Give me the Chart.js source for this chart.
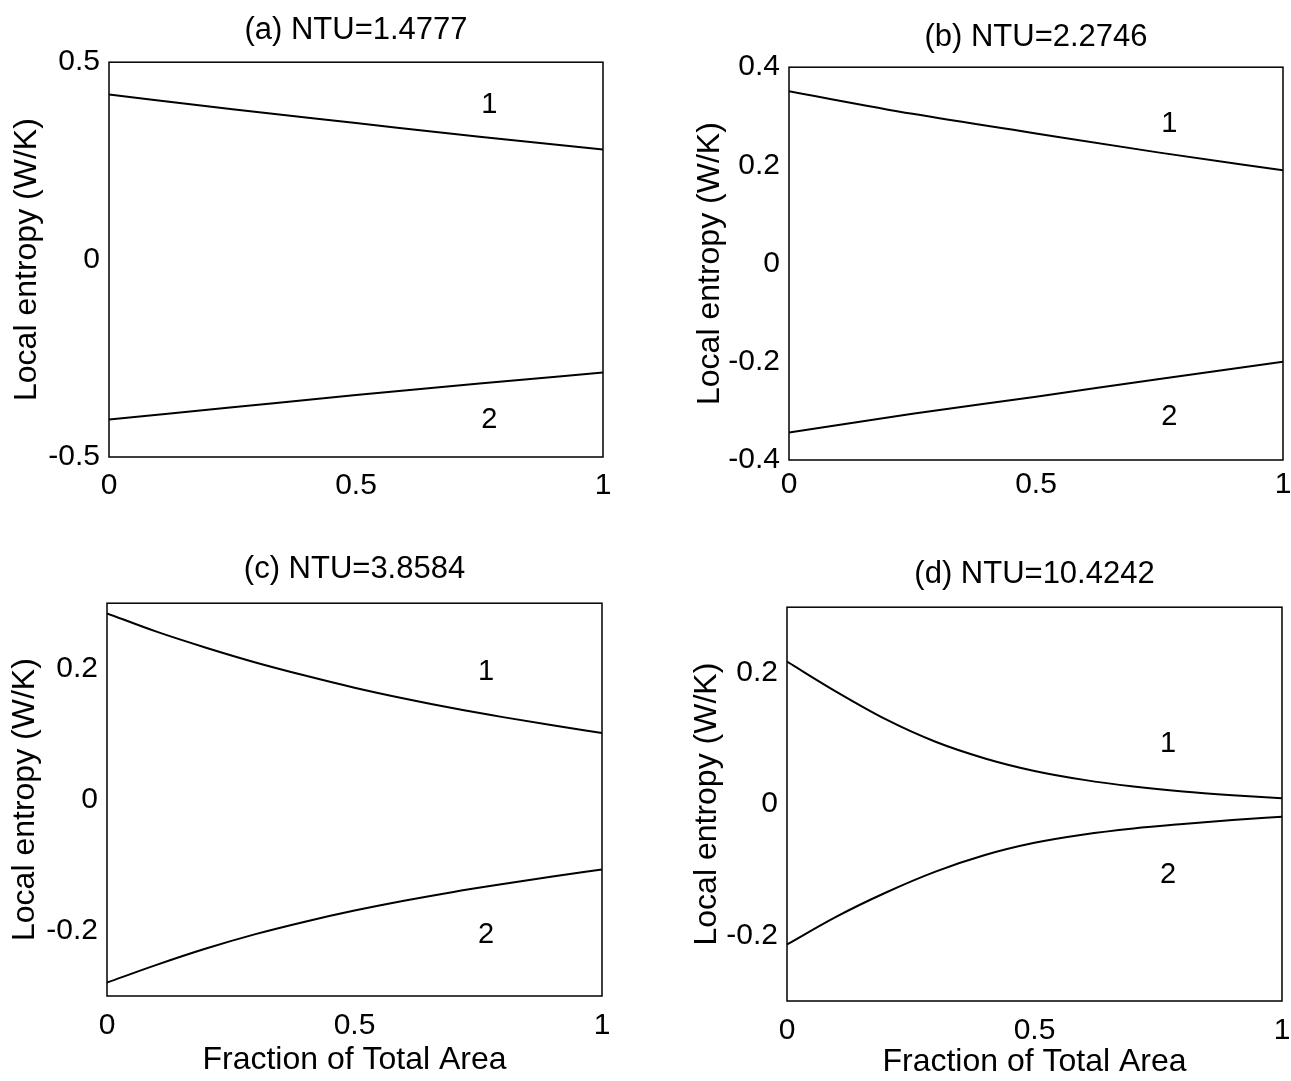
<!DOCTYPE html>
<html>
<head>
<meta charset="utf-8">
<script src="https://cdn.jsdelivr.net/npm/chart.js@4.4.0/dist/chart.umd.min.js"></script>
<style>
  html, body { margin: 0; padding: 0; background: #fff; overflow: hidden; width: 1291px; height: 1081px; }
  canvas { position: absolute; }
</style>
</head>
<body>
<canvas id="panelA" width="640" height="530" style="left:0px;top:0px"></canvas>
<canvas id="panelB" width="660" height="530" style="left:650px;top:0px"></canvas>
<canvas id="panelC" width="640" height="541" style="left:0px;top:540px"></canvas>
<canvas id="panelD" width="660" height="541" style="left:650px;top:540px"></canvas>
<script>
// fraction of total area
const xCoarse = [0, 0.25, 0.5, 0.75, 1];
const xFine = [0, 0.1, 0.2, 0.3, 0.4, 0.5, 0.6, 0.7, 0.8, 0.9, 1];
const xTicks = [0, 0.5, 1];

// (a) NTU=1.4777
const a1 = [0.418, 0.381, 0.346, 0.311, 0.279];
const a2 = [-0.405, -0.374, -0.343, -0.314, -0.286];
const aTicks = [-0.5, 0, 0.5];

// (b) NTU=2.2746
const b1 = [0.351, 0.305, 0.265, 0.226, 0.19];
const b2 = [-0.344, -0.306, -0.271, -0.235, -0.2];
const bTicks = [-0.4, -0.2, 0, 0.2, 0.4];

// (c) NTU=3.8584
const c1 = [0.2845, 0.2565, 0.232, 0.2095, 0.1895, 0.171, 0.1545, 0.1395, 0.126, 0.1135, 0.1016];
const c2 = [-0.2796, -0.2525, -0.2275, -0.2055, -0.1865, -0.1695, -0.1545, -0.141, -0.129, -0.1175, -0.1067];
const cTicks = [-0.2, 0, 0.2];

// (d) NTU=10.4242
const d1 = [0.217, 0.171, 0.129, 0.095, 0.0696, 0.0505, 0.0369, 0.0268, 0.0192, 0.0136, 0.0091];
const d2 = [-0.2138, -0.1714, -0.1347, -0.1029, -0.0776, -0.059, -0.0463, -0.0372, -0.0303, -0.0242, -0.0191];
const dTicks = [-0.2, 0, 0.2];

// curve labels "1" and "2" (data coords)
const aMarks = [[0.77, 0.391], [0.77, -0.406]];
const bMarks = [[0.77, 0.285], [0.77, -0.313]];
const cMarks = [[0.766, 0.1945], [0.766, -0.207]];
const dMarks = [[0.77, 0.0923], [0.77, -0.1083]];

const FONT = '"Liberation Sans", Arial, Helvetica, sans-serif';

const framePlugin = {
  id: 'frame',
  afterDatasetsDraw(chart, args, opts) {
    const { ctx, chartArea: a, scales: { x, y } } = chart;
    ctx.save();
    ctx.strokeStyle = '#000';
    ctx.lineWidth = 1.5;
    ctx.strokeRect(a.left, a.top, a.right - a.left, a.bottom - a.top);
    ctx.fillStyle = '#000';
    ctx.font = '29px ' + FONT;
    ctx.textAlign = 'center';
    ctx.textBaseline = 'middle';
    (opts.marks || []).forEach((m, i) => {
      ctx.fillText(String(i + 1), x.getPixelForValue(m[0]), y.getPixelForValue(m[1]));
    });
    ctx.restore();
  }
};

function makePanel(id, p) {
  const ds = [p.y1, p.y2].map(ys => ({
    data: p.xs.map((x, i) => ({ x: x, y: ys[i] })),
    borderColor: '#000',
    borderWidth: 2,
    pointRadius: 0,
    cubicInterpolationMode: 'monotone',
    fill: false
  }));
  return new Chart(document.getElementById(id).getContext('2d'), {
    type: 'line',
    data: { datasets: ds },
    plugins: [framePlugin],
    options: {
      responsive: false,
      animation: false,
      devicePixelRatio: 1,
      layout: { padding: { left: 0, right: p.padRight, top: 0, bottom: 0 } },
      plugins: {
        legend: { display: false },
        tooltip: { enabled: false },
        title: {
          display: true,
          text: p.title,
          fullSize: false,
          color: '#000',
          font: { family: FONT, size: 31, weight: 'normal' },
          padding: { top: p.titleTop, bottom: p.titleBottom }
        },
        frame: { marks: p.marks }
      },
      scales: {
        x: {
          type: 'linear',
          min: 0,
          max: 1,
          grid: { display: false, drawTicks: false },
          border: { display: false },
          afterBuildTicks: s => { s.ticks = xTicks.map(v => ({ value: v })); },
          afterFit: s => { s.height = p.xHeight; },
          ticks: {
            color: '#000',
            font: { family: FONT, size: 30 },
            padding: p.xTickPad,
            maxRotation: 0,
            autoSkip: false,
            callback: v => String(v)
          },
          title: {
            display: !!p.xTitle,
            text: p.xTitle || '',
            color: '#000',
            font: { family: FONT, size: 32 },
            padding: { top: 0, bottom: p.xTitlePad || 0 }
          }
        },
        y: {
          type: 'linear',
          min: p.yMin,
          max: p.yMax,
          grid: { display: false, drawTicks: false },
          border: { display: false },
          afterBuildTicks: s => { s.ticks = p.yTicks.map(v => ({ value: v })); },
          afterFit: s => { s.width = p.yWidth; },
          ticks: {
            color: '#000',
            font: { family: FONT, size: 30 },
            padding: 9,
            autoSkip: false,
            callback: v => String(v)
          },
          title: {
            display: true,
            text: 'Local entropy (W/K)',
            color: '#000',
            font: { family: FONT, size: 32 },
            padding: { top: p.yTitlePad, bottom: 0 }
          }
        }
      }
    }
  });
}

makePanel('panelA', {
  title: '(a) NTU=1.4777', xs: xCoarse, y1: a1, y2: a2, yTicks: aTicks, yMin: -0.5, yMax: 0.5,
  marks: aMarks, padRight: 37, yWidth: 109, yTitlePad: 8, titleTop: 12, titleBottom: 13,
  xHeight: 73, xTickPad: 11
});
makePanel('panelB', {
  title: '(b) NTU=2.2746', xs: xCoarse, y1: b1, y2: b2, yTicks: bTicks, yMin: -0.4, yMax: 0.4,
  marks: bMarks, padRight: 27, yWidth: 139, yTitlePad: 41, titleTop: 19, titleBottom: 11,
  xHeight: 70, xTickPad: 7
});
makePanel('panelC', {
  title: '(c) NTU=3.8584', xs: xFine, y1: c1, y2: c2, yTicks: cTicks, yMin: -0.3, yMax: 0.3,
  marks: cMarks, padRight: 38, yWidth: 107, yTitlePad: 6, titleTop: 11, titleBottom: 15,
  xHeight: 85, xTickPad: 12, xTitle: 'Fraction of Total Area', xTitlePad: 2
});
makePanel('panelD', {
  title: '(d) NTU=10.4242', xs: xFine, y1: d1, y2: d2, yTicks: dTicks, yMin: -0.3, yMax: 0.3,
  marks: dMarks, padRight: 28, yWidth: 137, yTitlePad: 38, titleTop: 16, titleBottom: 14,
  xHeight: 80, xTickPad: 12, xTitle: 'Fraction of Total Area', xTitlePad: 0
});
</script>
</body>
</html>
